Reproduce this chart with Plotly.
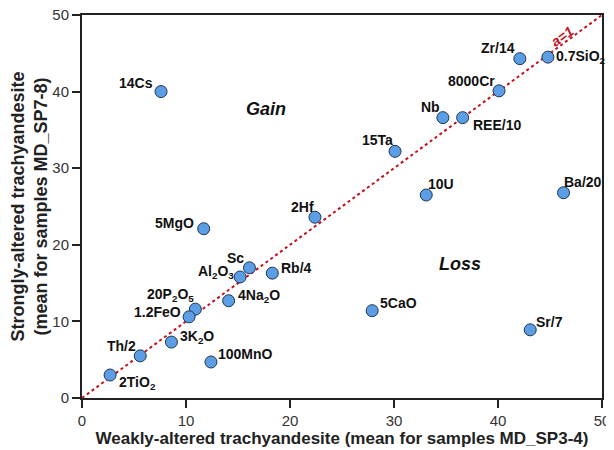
import plotly.graph_objects as go

labels = ["14Cs", "Zr/14", "0.7SiO<sub>2</sub>", "8000Cr", "Nb", "REE/10", "15Ta", "10U", "Ba/20",
          "2Hf", "5MgO", "Sc", "Al<sub>2</sub>O<sub>3</sub>", "Rb/4", "4Na<sub>2</sub>O",
          "20P<sub>2</sub>O<sub>5</sub>", "1.2FeO", "3K<sub>2</sub>O", "100MnO", "Th/2",
          "2TiO<sub>2</sub>", "5CaO", "Sr/7"]
weak = [7.6, 42.1, 44.8, 40.1, 34.7, 36.6, 30.1, 33.1, 46.3,
        22.4, 11.7, 16.1, 15.2, 18.3, 14.1,
        10.9, 10.3, 8.6, 12.4, 5.6,
        2.7, 27.9, 43.1]
strong = [40.0, 44.3, 44.5, 40.1, 36.6, 36.6, 32.2, 26.5, 26.8,
          23.6, 22.1, 17.0, 15.8, 16.3, 12.7,
          11.6, 10.6, 7.3, 4.7, 5.5,
          3.0, 11.4, 8.9]
# label placement: (xanchor, xshift, yshift)
placement = [("right", -6, 9), ("right", -3, 11), ("left", 6, 0), ("right", -2, 10), ("right", -1, 11),
             ("left", 8, -7), ("right", 0, 11), ("left", 0, 11), ("left", -2, 11),
             ("right", 1, 10), ("right", -8, 6), ("right", -3, 10), ("right", -4, 5), ("left", 7, 5),
             ("left", 7, 5), ("right", 1, 14), ("right", -6, 5), ("left", 7, 5), ("left", 5, 8),
             ("right", -2, 10), ("left", 7, -8), ("left", 6, 8), ("left", 4, 8)]

line_x = [0, 50]
line_y = [0, 50]

FONT = "Liberation Sans, Arial"

fig = go.Figure()
fig.add_trace(go.Scatter(x=line_x, y=line_y, mode="lines",
                         line=dict(color="#c0101a", width=2, dash="dot"),
                         hoverinfo="skip", showlegend=False, cliponaxis=True))
fig.add_trace(go.Scatter(x=weak, y=strong, mode="markers",
                         marker=dict(size=12, color="#5b9ee6",
                                     line=dict(color="#1f3550", width=1)),
                         showlegend=False, cliponaxis=False))

for lab, xv, yv, (xa, xs, ys) in zip(labels, weak, strong, placement):
    fig.add_annotation(x=xv, y=yv, text="<b>" + lab + "</b>", showarrow=False,
                       xanchor=xa, yanchor="middle", xshift=xs, yshift=ys,
                       font=dict(family=FONT, size=14, color="#111111"))

fig.add_annotation(x=17.7, y=37.7, text="<b><i>Gain</i></b>", showarrow=False,
                   font=dict(family=FONT, size=18, color="#111111"))
fig.add_annotation(x=36.3, y=17.5, text="<b><i>Loss</i></b>", showarrow=False,
                   font=dict(family=FONT, size=18, color="#111111"))
fig.add_annotation(x=46.2, y=47.3, text="<b><i>a=1</i></b>", showarrow=False, textangle=-36,
                   font=dict(family=FONT, size=14, color="#c0101a"))

axis_common = dict(range=[0, 50], dtick=10, showgrid=False, zeroline=False, automargin=False,
                   showline=True, linecolor="#222222", linewidth=2, mirror=True,
                   ticks="outside", ticklen=8, tickwidth=1.5, tickcolor="#222222",
                   ticklabeloverflow="allow",
                   tickfont=dict(family=FONT, size=15, color="#333333"))

fig.update_xaxes(**axis_common,
                 title=dict(text="<b>Weakly-altered trachyandesite (mean for samples MD_SP3-4)</b>",
                            font=dict(family=FONT, size=17, color="#222222"),
                            standoff=2))
fig.update_yaxes(**axis_common,
                 title=dict(text="<b>Strongly-altered trachyandesite<br>(mean for samples MD_SP7-8)</b>",
                            font=dict(family=FONT, size=18, color="#222222"),
                            standoff=1))

# the page body adds an 8px margin, so the figure is sized to fit inside the window
fig.update_layout(width=606, height=442, plot_bgcolor="white", paper_bgcolor="white",
                  margin=dict(l=74, r=12, t=7, b=52))

fig.write_html("out.html")
